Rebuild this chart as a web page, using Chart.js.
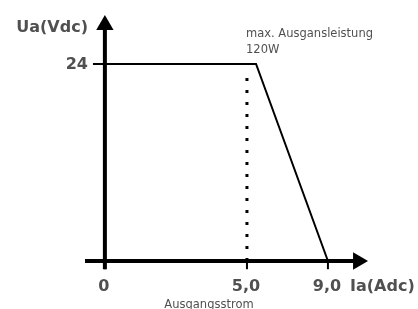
<!DOCTYPE html>
<html>
<head>
<meta charset="utf-8">
<script src="https://cdn.jsdelivr.net/npm/chart.js@4/dist/chart.umd.min.js"></script>
<style>
html, body { margin: 0; padding: 0; background: #fff; }
#wrap { width: 418px; height: 309px; }
</style>
</head>
<body>
<div id="wrap"><canvas id="myChart"></canvas></div>
<script>
// Kennlinie (in Zeichnungseinheiten, schematisch)
const curveX = [0, 5.32, 7.85]
const curveY = [24, 24, 0]
// gepunktete Linie bei 5,0
const guideX = [5, 5]
const guideY = [0, 22.7]
// Achsen + Ticks
const xAxisX = [-0.7, 8.91]
const yAxisY = [-1, 28.75]
const xTicks = [0, 5, 7.85]
const xTickLabels = ['0', '5,0', '9,0']
const yTicks = [24]
const yTickLabels = ['24']

const grey = '#505050'
const boldFont = 'bold 16px "DejaVu Sans"'
const smallFont = '11.5px "DejaVu Sans"'

function toPoints(xs, ys) {
    return xs.map((x, i) => ({ x: x, y: ys[i] }))
}

// Ticks und Beschriftungen
const axisTexts = {
    id: 'axisTexts',
    afterDatasetsDraw(chart) {
        const ctx = chart.ctx
        const xs = chart.scales.x
        const ys = chart.scales.y
        ctx.save()
        ctx.strokeStyle = '#000'
        ctx.lineWidth = 2
        xTicks.forEach(t => {
            const px = xs.getPixelForValue(t)
            ctx.beginPath()
            ctx.moveTo(px, ys.getPixelForValue(0))
            ctx.lineTo(px, ys.getPixelForValue(-1))
            ctx.stroke()
        })
        yTicks.forEach(t => {
            const py = ys.getPixelForValue(t)
            ctx.beginPath()
            ctx.moveTo(xs.getPixelForValue(-0.42), py)
            ctx.lineTo(xs.getPixelForValue(0), py)
            ctx.stroke()
        })

        ctx.fillStyle = grey
        ctx.font = boldFont
        ctx.textBaseline = 'middle'
        ctx.textAlign = 'center'
        xTicks.forEach((t, i) => {
            ctx.fillText(xTickLabels[i], xs.getPixelForValue(t) - 1, 287)
        })
        ctx.textAlign = 'right'
        yTicks.forEach((t, i) => {
            ctx.fillText(yTickLabels[i], 88, ys.getPixelForValue(t) + 1)
        })
        ctx.fillText('Ua(Vdc)', 88, 28)
        ctx.textAlign = 'left'
        ctx.fillText('Ia(Adc)', 350, 287)

        ctx.font = smallFont
        ctx.textBaseline = 'alphabetic'
        ctx.fillText('max. Ausgansleistung', 246, 37)
        ctx.fillText('120W', 246, 53)
        ctx.textAlign = 'center'
        ctx.fillText('Ausgangsstrom', 209, 308)
        ctx.restore()
    }
}

new Chart(document.getElementById('myChart'), {
    type: 'line',
    data: {
        datasets: [
            {
                data: toPoints(curveX, curveY),
                borderColor: '#000',
                borderWidth: 2,
                pointRadius: 0,
                tension: 0
            },
            {
                data: toPoints(guideX, guideY),
                borderColor: '#000',
                borderWidth: 3,
                borderDash: [3, 9],
                pointRadius: 0
            },
            {
                data: toPoints(xAxisX, [0, 0]),
                borderColor: '#000',
                borderWidth: 4,
                pointRadius: [0, 10],
                pointStyle: 'triangle',
                rotation: 90,
                pointBackgroundColor: '#000',
                pointBorderWidth: 0,
                clip: false
            },
            {
                data: toPoints([0, 0], yAxisY),
                borderColor: '#000',
                borderWidth: 4,
                pointRadius: [0, 10],
                pointStyle: 'triangle',
                pointBackgroundColor: '#000',
                pointBorderWidth: 0,
                clip: false
            }
        ]
    },
    options: {
        responsive: true,
        maintainAspectRatio: false,
        animation: false,
        layout: { padding: { left: 85, right: 50, top: 14.75, bottom: 39.8 } },
        scales: {
            x: { type: 'linear', min: -0.7, max: 9.26, display: false },
            y: { type: 'linear', min: -1, max: 30, display: false }
        },
        plugins: {
            legend: { display: false },
            tooltip: { enabled: false }
        }
    },
    plugins: [axisTexts]
});
</script>
</body>
</html>
